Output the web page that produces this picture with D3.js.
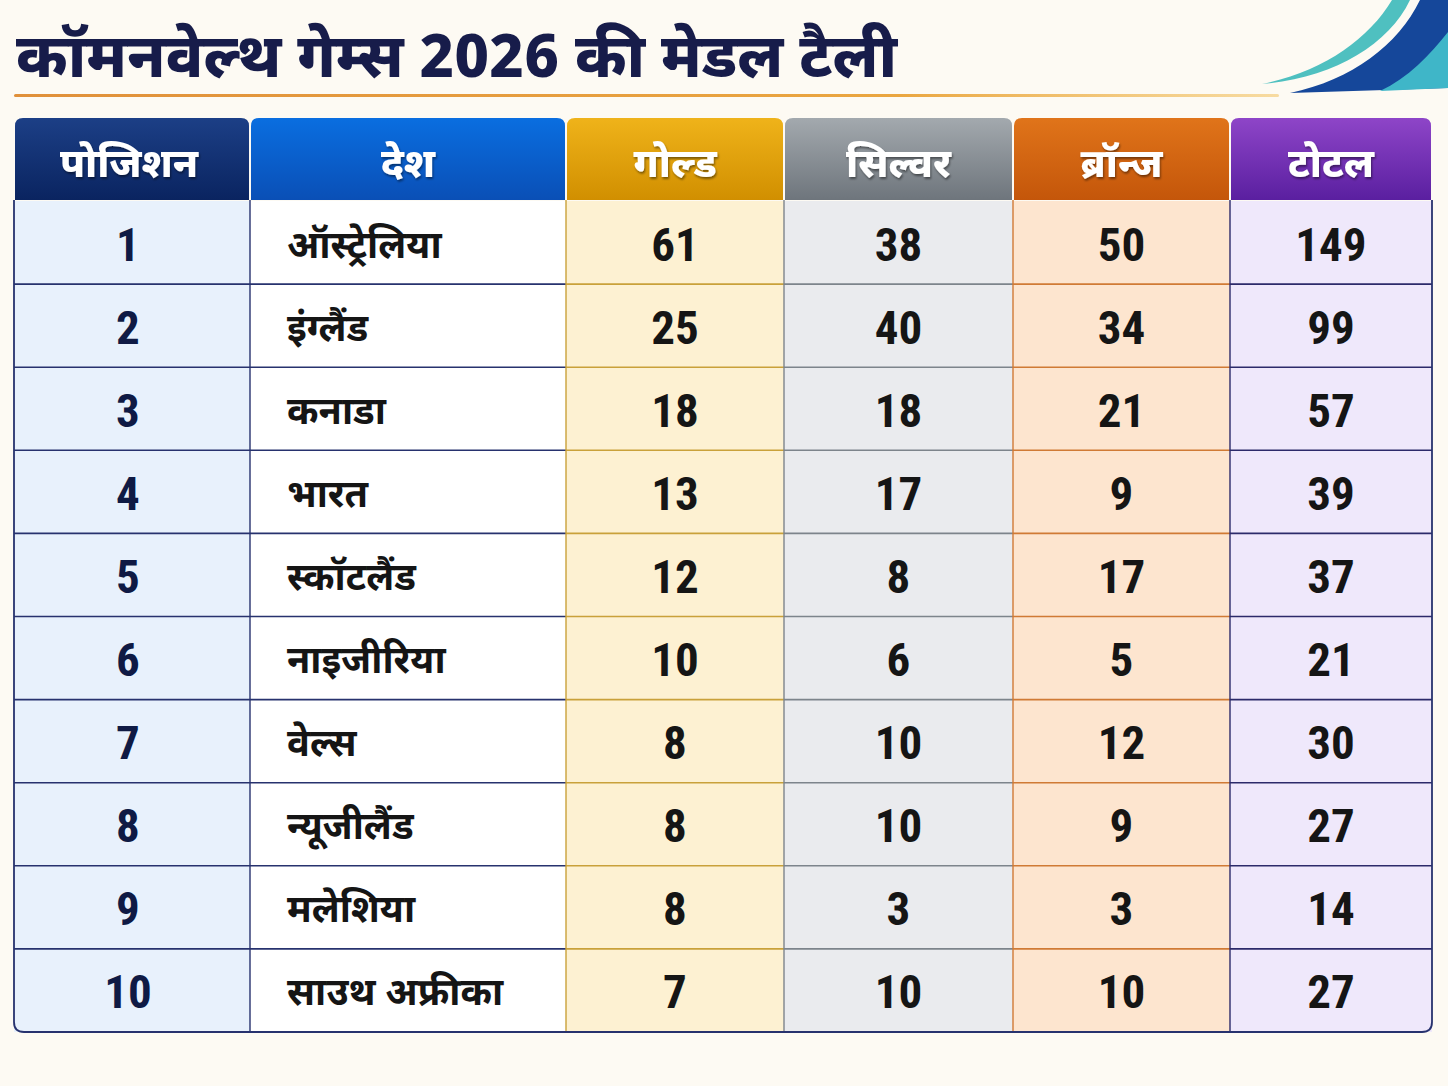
<!DOCTYPE html>
<html>
<head>
<meta charset="utf-8">
<script src="https://cdn.jsdelivr.net/npm/d3@7"></script>
<style>
  html, body { margin: 0; padding: 0; background: #fdfaf3; }
  svg { display: block; }
</style>
</head>
<body>
<div id="chart"></div>
<script>
// Data
const title = "कॉमनवेल्थ गेम्स 2026 की मेडल टैली";
const headers = ["पोजिशन", "देश", "गोल्ड", "सिल्वर", "ब्रॉन्ज", "टोटल"];
const positions = [1, 2, 3, 4, 5, 6, 7, 8, 9, 10];
const countries = ["ऑस्ट्रेलिया", "इंग्लैंड", "कनाडा", "भारत", "स्कॉटलैंड", "नाइजीरिया", "वेल्स", "न्यूजीलैंड", "मलेशिया", "साउथ अफ्रीका"];
const gold = [61, 25, 18, 13, 12, 10, 8, 8, 8, 7];
const silver = [38, 40, 18, 17, 8, 6, 10, 10, 3, 10];
const bronze = [50, 34, 21, 9, 17, 5, 12, 9, 3, 10];
const total = [149, 99, 57, 39, 37, 21, 30, 27, 14, 27];

const width = 1448, height = 1086;
const devFont = "'Noto Sans Devanagari', 'Noto Sans', 'Lohit Devanagari', sans-serif";
const numFont = "'Roboto Condensed', 'Liberation Sans Narrow', 'Roboto', sans-serif";

// column styling (header gradient top/bottom, cell fill, grid line colour)
const colStyle = [
  { top: "#1c3f86", bottom: "#0a2460", fill: "#e8f1fc", line: "#27326e" },
  { top: "#0a6ee0", bottom: "#0a4fb6", fill: "#ffffff", line: "#27326e" },
  { top: "#efb31a", bottom: "#d18f00", fill: "#fdf1d2", line: "#c9a13a" },
  { top: "#a3a9ae", bottom: "#6e757c", fill: "#eaebee", line: "#7d848b" },
  { top: "#e0741a", bottom: "#c4560a", fill: "#fde5cf", line: "#d07a35" },
  { top: "#8e45c8", bottom: "#5a1fa0", fill: "#efe8fb", line: "#2c2a6a" }
];
const colWidths = [236, 316, 218, 229, 217, 202];

const rows = positions.map((p, i) => ({
  cells: [p, countries[i], gold[i], silver[i], bronze[i], total[i]]
}));

const svg = d3.select("#chart").append("svg")
  .attr("width", width)
  .attr("height", height);

const defs = svg.append("defs");

// Column x scale built from cumulative widths
const tableLeft = 14;
const colStart = [];
colWidths.reduce((acc, w) => { colStart.push(acc); return acc + w; }, tableLeft);
const tableRight = tableLeft + d3.sum(colWidths);
const xScale = d3.scaleOrdinal().domain(d3.range(headers.length)).range(colStart);

const headerTop = 118, headerBottom = 200, tableBottom = 1032;
const yScale = d3.scaleBand().domain(positions).range([headerBottom + 1, tableBottom]);

// --- Title
svg.append("text")
  .attr("x", 16)
  .attr("y", 77)
  .attr("font-family", devFont)
  .attr("font-weight", 800)
  .attr("font-size", 61)
  .attr("fill", "#171c4a")
  .text(title);

// underline with fade to the right
const ul = defs.append("linearGradient").attr("id", "ul");
ul.append("stop").attr("offset", "0%").attr("stop-color", "#e0903a");
ul.append("stop").attr("offset", "70%").attr("stop-color", "#eaa640");
ul.append("stop").attr("offset", "100%").attr("stop-color", "#f3c66a").attr("stop-opacity", 0.6);
svg.append("rect")
  .attr("x", 14).attr("y", 94).attr("width", 1265).attr("height", 3)
  .attr("rx", 1.5)
  .attr("fill", "url(#ul)");

// top-right decoration
const deco = svg.append("g");
deco.append("path")
  .attr("d", "M1262,84 C1322,72 1368,40 1392,0 L1410,0 C1388,46 1332,78 1262,84 Z")
  .attr("fill", "#4fc0c0");
deco.append("path")
  .attr("d", "M1290,93 C1352,80 1398,45 1420,0 L1448,0 L1448,88 Z")
  .attr("fill", "#15479a");
deco.append("path")
  .attr("d", "M1380,91 C1408,78 1430,55 1448,32 L1448,88 Z")
  .attr("fill", "#3fb6c8");

// --- Cells
const cellG = svg.append("g");
rows.forEach((r, ri) => {
  r.cells.forEach((v, ci) => {
    cellG.append("rect")
      .attr("x", xScale(ci))
      .attr("y", yScale(positions[ri]))
      .attr("width", colWidths[ci])
      .attr("height", yScale.bandwidth())
      .attr("fill", colStyle[ci].fill);
  });
});

// horizontal row lines per column (coloured per column)
const gridG = svg.append("g");
positions.slice(1).forEach(p => {
  colWidths.forEach((w, ci) => {
    gridG.append("line")
      .attr("x1", xScale(ci)).attr("x2", xScale(ci) + w)
      .attr("y1", yScale(p)).attr("y2", yScale(p))
      .attr("stroke", colStyle[ci].line)
      .attr("stroke-width", 1.6);
  });
});

// vertical column lines
colStart.slice(1).forEach((x, i) => {
  gridG.append("line")
    .attr("x1", x).attr("x2", x)
    .attr("y1", headerBottom).attr("y2", tableBottom)
    .attr("stroke", colStyle[i + 1].line)
    .attr("stroke-width", 1.4);
});

// outer border (rounded bottom corners)
const r = 10;
svg.append("path")
  .attr("d", `M${tableLeft},${headerBottom} L${tableLeft},${tableBottom - r} Q${tableLeft},${tableBottom} ${tableLeft + r},${tableBottom}
              L${tableRight - r},${tableBottom} Q${tableRight},${tableBottom} ${tableRight},${tableBottom - r} L${tableRight},${headerBottom}`)
  .attr("fill", "none")
  .attr("stroke", "#27326e")
  .attr("stroke-width", 1.8);

// --- Header
const shadow = defs.append("filter").attr("id", "ts").attr("x", "-10%").attr("y", "-10%").attr("width", "120%").attr("height", "130%");
shadow.append("feDropShadow").attr("dx", 1).attr("dy", 2).attr("stdDeviation", 1.2).attr("flood-color", "#000").attr("flood-opacity", 0.45);

headers.forEach((h, ci) => {
  const g = defs.append("linearGradient").attr("id", "hg" + ci).attr("x1", 0).attr("y1", 0).attr("x2", 0).attr("y2", 1);
  g.append("stop").attr("offset", "0%").attr("stop-color", colStyle[ci].top);
  g.append("stop").attr("offset", "100%").attr("stop-color", colStyle[ci].bottom);
  const x0 = xScale(ci) + 1, x1 = xScale(ci) + colWidths[ci] - 1, rr = 8;
  svg.append("path")
    .attr("d", `M${x0},${headerBottom} L${x0},${headerTop + rr} Q${x0},${headerTop} ${x0 + rr},${headerTop}
                L${x1 - rr},${headerTop} Q${x1},${headerTop} ${x1},${headerTop + rr} L${x1},${headerBottom} Z`)
    .attr("fill", `url(#hg${ci})`);
  svg.append("text")
    .attr("x", xScale(ci) + colWidths[ci] / 2 - (ci === 0 ? 3 : 0))
    .attr("y", 177)
    .attr("text-anchor", "middle")
    .attr("font-family", devFont)
    .attr("font-weight", 800)
    .attr("font-size", 40)
    .attr("fill", "#ffffff")
    .attr("filter", "url(#ts)")
    .text(h);
});

// --- Cell text
const textG = svg.append("g");
rows.forEach((row, ri) => {
  const yMid = yScale(positions[ri]) + yScale.bandwidth() / 2;
  row.cells.forEach((v, ci) => {
    const isCountry = ci === 1;
    textG.append("text")
      .attr("x", isCountry ? xScale(ci) + 37 : xScale(ci) + colWidths[ci] / 2 - (ci === 0 ? 4 : 0))
      .attr("y", yMid + (isCountry ? 15 : 18))
      .attr("text-anchor", isCountry ? "start" : "middle")
      .attr("font-family", isCountry ? devFont : numFont)
      .attr("font-weight", 700)
      .attr("font-size", isCountry ? 38 : 47)
      .attr("fill", ci === 0 ? "#0f1a44" : "#151515")
      .text(v);
  });
});
</script>
</body>
</html>
